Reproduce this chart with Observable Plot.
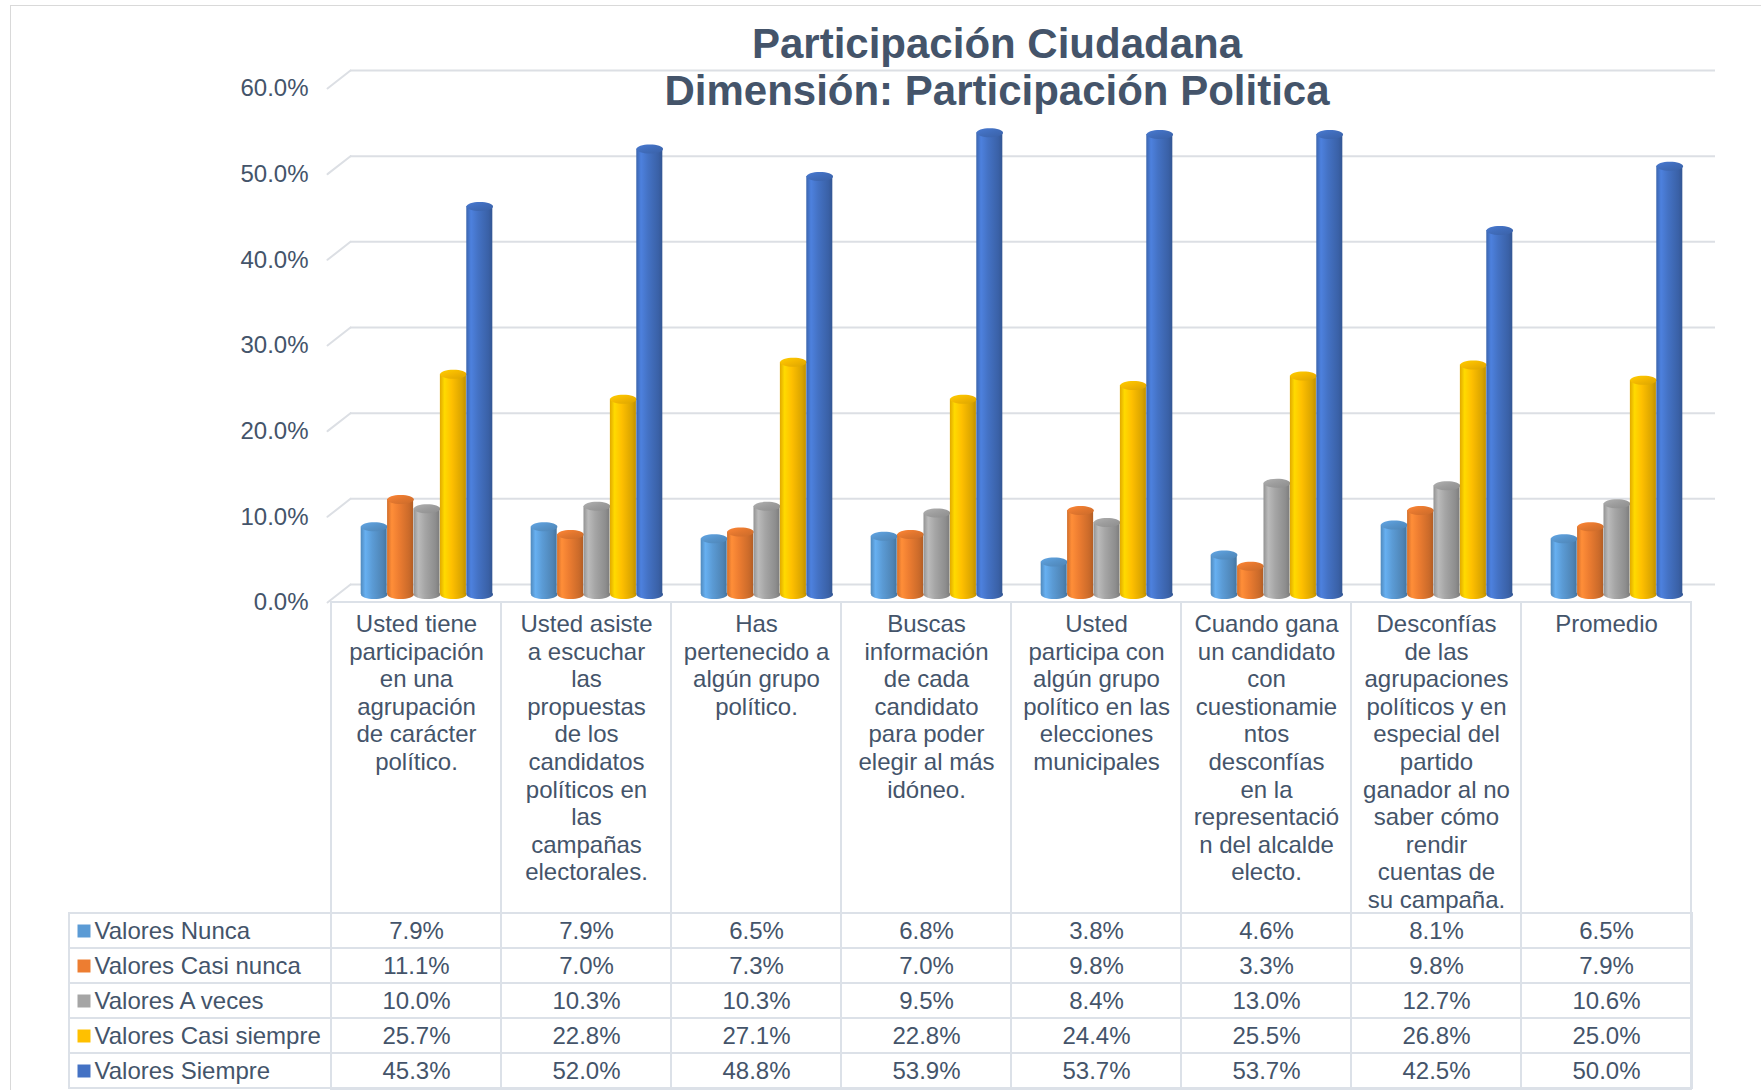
<!DOCTYPE html>
<html>
<head>
<meta charset="utf-8">
<script src="https://cdn.jsdelivr.net/npm/d3@7"></script>
<script src="https://cdn.jsdelivr.net/npm/@observablehq/plot@0.6"></script>
<style>
  html, body { margin: 0; padding: 0; background: #ffffff; overflow: hidden; }
  #wrap { position: relative; width: 1761px; height: 1090px; overflow: hidden; background: #fff; }
  #frame { position: absolute; left: 10px; top: 5px; width: 1800px; height: 1200px; border: 1px solid #D9D9D9; box-sizing: border-box; }
  #title { position: absolute; left: 997px; top: 20px; transform: translateX(-50%); white-space: nowrap;
           font-family: "Liberation Sans", Arial, sans-serif; font-weight: bold; font-size: 42px; line-height: 47px;
           color: #44546A; text-align: center; }
  svg { position: absolute; left: 0; }
</style>
</head>
<body>
<div id="wrap">
  <div id="frame"></div>
</div>
<script>
// ---------------- data ----------------
const categories = [
  "Usted tiene\nparticipación\nen una\nagrupación\nde carácter\npolítico.",
  "Usted asiste\na escuchar\nlas\npropuestas\nde los\ncandidatos\npolíticos en\nlas\ncampañas\nelectorales.",
  "Has\npertenecido a\nalgún grupo\npolítico.",
  "Buscas\ninformación\nde cada\ncandidato\npara poder\nelegir al más\nidóneo.",
  "Usted\nparticipa con\nalgún grupo\npolítico en las\nelecciones\nmunicipales",
  "Cuando gana\nun candidato\ncon\ncuestionamie\nntos\ndesconfías\nen la\nrepresentació\nn del alcalde\nelecto.",
  "Desconfías\nde las\nagrupaciones\npolíticos y en\nespecial del\npartido\nganador al no\nsaber cómo\nrendir\ncuentas de\nsu campaña.",
  "Promedio"
];
const series = ["Valores Nunca", "Valores Casi nunca", "Valores A veces", "Valores Casi siempre", "Valores Siempre"];
const nunca       = [7.9, 7.9, 6.5, 6.8, 3.8, 4.6, 8.1, 6.5];
const casiNunca   = [11.1, 7.0, 7.3, 7.0, 9.8, 3.3, 9.8, 7.9];
const aVeces      = [10.0, 10.3, 10.3, 9.5, 8.4, 13.0, 12.7, 10.6];
const casiSiempre = [25.7, 22.8, 27.1, 22.8, 24.4, 25.5, 26.8, 25.0];
const siempre     = [45.3, 52.0, 48.8, 53.9, 53.7, 53.7, 42.5, 50.0];
const yTicks = [0, 10, 20, 30, 40, 50, 60];
const titleLines = ["Participación Ciudadana", "Dimensión: Participación Politica"];

// ---------------- styles ----------------
const colors = ["#5B9BD5", "#ED7D31", "#A5A5A5", "#FFC000", "#4472C4"];
const textColor = "#44546A";
const gridColor = "#DCDFE4";
const tableColor = "#DCE1E8";
const font = "'Liberation Sans', Arial, sans-serif";

const values = [nunca, casiNunca, aVeces, casiSiempre, siempre];
const rows = series.flatMap((s, i) => categories.map((c, j) => ({cat: c, series: s, si: i, value: values[i][j]})));

// title
const title = document.createElement("div");
title.id = "title";
title.innerHTML = titleLines.join("<br>");
document.getElementById("wrap").appendChild(title);

// ---------------- geometry ----------------
const W = 1761;
const xRange = [329, 1692];
const bw = (xRange[1] - xRange[0]) / categories.length;
const barW = 26.4;
const groupShift = 10.5;
const groupLeft = bw / 2 - (barW * 5) / 2 + groupShift;

const ellipse = (rx, ry) => ({
  draw(ctx) {
    const k = 0.5523;
    ctx.moveTo(-rx, 0);
    ctx.bezierCurveTo(-rx, -ry * k, -rx * k, -ry, 0, -ry);
    ctx.bezierCurveTo(rx * k, -ry, rx, -ry * k, rx, 0);
    ctx.bezierCurveTo(rx, ry * k, rx * k, ry, 0, ry);
    ctx.bezierCurveTo(-rx * k, ry, -rx, ry * k, -rx, 0);
    ctx.closePath();
  }
});
const cap = ellipse(barW / 2, 4.5);
const lineShape = {draw(ctx, l) { ctx.moveTo(0, 0); ctx.lineTo(0, -l); }};

const barMarks = series.flatMap((s, i) => {
  const d = rows.filter(r => r.si === i);
  const insetLeft = groupLeft + i * barW;
  const insetRight = bw - insetLeft - barW;
  const cx = insetLeft + barW / 2 - bw / 2;
  return [
    Plot.dot(d, {x: "cat", y: () => 0, dx: cx, dy: 10, symbol: cap, r: 5, fill: `url(#body${i})`, stroke: "none"}),
    Plot.barY(d, {x: "cat", y: "value", insetLeft, insetRight, dy: 10, fill: `url(#body${i})`}),
    Plot.dot(d, {x: "cat", y: "value", dx: cx, dy: 10, symbol: cap, r: 5, fill: `url(#cap${i})`, stroke: "none"})
  ];
});

const chart = Plot.plot({
  width: W,
  height: 602,
  marginTop: 70,
  marginBottom: 18,
  marginLeft: 350,
  marginRight: 46,
  style: {fontFamily: font, fontSize: "24px", color: textColor, background: "transparent", overflow: "visible"},
  x: {type: "band", domain: categories, range: xRange, padding: 0, axis: null},
  y: {domain: [0, 60], axis: null},
  marks: [
    Plot.ruleY(yTicks, {y: d => d, stroke: gridColor, strokeWidth: 2}),
    Plot.vector(yTicks, {y: d => d, frameAnchor: "left", length: 29.2, rotate: 52, anchor: "end",
                         shape: lineShape, stroke: gridColor, strokeWidth: 2}),
    Plot.text(yTicks, {y: d => d, text: d => d.toFixed(1) + "%", frameAnchor: "left", textAnchor: "end",
                       dx: -42, dy: 18, fontSize: 24, fill: textColor}),
    ...barMarks
  ]
});
chart.style.top = "0px";

// gradients
const defs = d3.select(chart).insert("defs", ":first-child");
colors.forEach((c, i) => {
  const base = d3.color(c);
  const g = defs.append("linearGradient").attr("id", `body${i}`).attr("x1", 0).attr("x2", 1).attr("y1", 0).attr("y2", 0);
  [[0, base.darker(0.35)], [0.18, base.brighter(0.35)], [0.45, base], [0.85, base.darker(0.45)], [1, base.darker(0.8)]]
    .forEach(([o, col]) => g.append("stop").attr("offset", o).attr("stop-color", col.formatHex()));
  const gc = defs.append("linearGradient").attr("id", `cap${i}`).attr("x1", 0).attr("x2", 1).attr("y1", 0).attr("y2", 1);
  [[0, base.brighter(0.2)], [0.5, base.darker(0.15)], [1, base.darker(0.45)]]
    .forEach(([o, col]) => gc.append("stop").attr("offset", o).attr("stop-color", col.formatHex()));
});

const table = Plot.plot({
  width: W,
  height: 488,
  marginTop: 0,
  marginBottom: 0,
  marginLeft: 69,
  marginRight: W - xRange[1],
  style: {fontFamily: font, fontSize: "24px", color: textColor, background: "transparent", overflow: "visible"},
  x: {type: "band", domain: categories, range: xRange, padding: 0, axis: null},
  y: {type: "band", domain: series, range: [309, 488], padding: 0, axis: null},
  color: {domain: series, range: colors},
  marks: [
    Plot.cell(series, {y: d => d, fill: "none", stroke: tableColor, strokeWidth: 2}),
    Plot.cell(categories, {x: d => d, fill: "none", stroke: tableColor, strokeWidth: 2}),
    Plot.text(categories, {x: d => d, text: d => d, frameAnchor: "top", lineAnchor: "top", dy: 10,
                           lineHeight: 1.15, fontSize: 24, fill: textColor}),
    Plot.dot(series, {y: d => d, frameAnchor: "left", dx: 14.5, symbol: "square", r: 7.33, fill: d => d}),
    Plot.text(series, {y: d => d, text: d => d, frameAnchor: "left", textAnchor: "start", dx: 25, fontSize: 24, fill: textColor}),
    Plot.text(rows, {x: "cat", y: "series", text: d => d.value.toFixed(1) + "%", fontSize: 24, fill: textColor})
  ]
});
table.style.top = "602px";

document.getElementById("wrap").appendChild(chart);
document.getElementById("wrap").appendChild(table);
</script>
</body>
</html>
